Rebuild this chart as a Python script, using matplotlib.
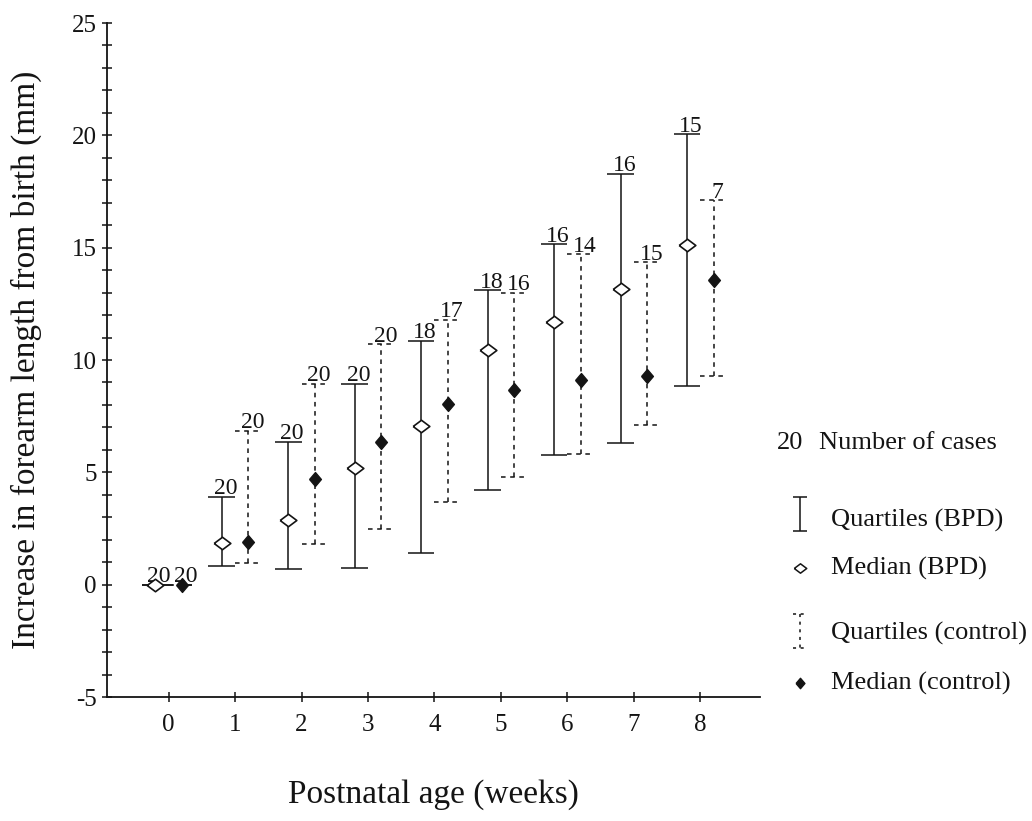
import matplotlib
matplotlib.use("Agg")
import matplotlib.pyplot as plt
from matplotlib.ticker import MultipleLocator
import numpy as np

# Postnatal age (weeks)
weeks = [0, 1, 2, 3, 4, 5, 6, 7, 8]

# BPD group: lower quartile, median, upper quartile (mm) and number of cases
bpd_q1 = [0.0, 0.85, 0.7, 0.75, 1.4, 4.2, 5.75, 6.3, 8.85]
bpd_med = [0.0, 1.85, 2.9, 5.2, 7.05, 10.45, 11.7, 13.15, 15.1]
bpd_q3 = [0.0, 3.9, 6.35, 8.95, 10.85, 13.1, 15.15, 18.3, 20.05]
bpd_n = [20, 20, 20, 20, 18, 18, 16, 16, 15]

# Control group
ctl_q1 = [0.0, 0.95, 1.8, 2.5, 3.7, 4.8, 5.8, 7.1, 9.3]
ctl_med = [0.0, 1.9, 4.7, 6.35, 8.05, 8.65, 9.1, 9.3, 13.55]
ctl_q3 = [0.0, 6.85, 8.95, 10.7, 11.8, 13.0, 14.7, 14.35, 17.1]
ctl_n = [20, 20, 20, 20, 17, 16, 14, 15, 7]

plt.rcParams["font.family"] = ["Liberation Serif", "DejaVu Serif"]
plt.rcParams["axes.unicode_minus"] = False
INK = "#141414"

fig = plt.figure(figsize=(10.32, 8.21), dpi=100)
ax = fig.add_axes([107 / 1032, 1 - 697 / 821, 653 / 1032, 674 / 821])

offset = 0.2      # half distance between the two groups at each week
cap = 0.2         # half width of quartile caps
lw = 1.1
dash = (0, (3, 3))

x = np.asarray(weeks, dtype=float)
xb = x - offset
xc = x + offset

bpd_diamond = [(-1, 0), (0, 0.75), (1, 0), (0, -0.75), (-1, 0)]
ctl_diamond = [(-0.85, 0), (0, 1), (0.85, 0), (0, -1), (-0.85, 0)]

# BPD quartile bars (solid)
ax.vlines(xb, bpd_q1, bpd_q3, color=INK, lw=lw)
ax.hlines(bpd_q1, xb - cap, xb + cap, color=INK, lw=lw)
ax.hlines(bpd_q3, xb - cap, xb + cap, color=INK, lw=lw)

# Control quartile bars (dashed)
ax.vlines(xc, ctl_q1, ctl_q3, color=INK, lw=lw, linestyles=[dash])
ax.hlines(ctl_q1, xc - cap, xc + cap, color=INK, lw=lw, linestyles=[dash])
ax.hlines(ctl_q3, xc - cap, xc + cap, color=INK, lw=lw, linestyles=[dash])

# Medians
ax.plot(xb, bpd_med, linestyle="none", marker=bpd_diamond, ms=12,
        mfc="white", mec=INK, mew=1.2, zorder=4)
ax.plot(xc, ctl_med, linestyle="none", marker=ctl_diamond, ms=10,
        mfc=INK, mec=INK, mew=1, zorder=4)

# Number of cases above each bar
for xi, top, n in zip(xb, bpd_q3, bpd_n):
    ax.text(xi + 0.06, top + 0.12, str(n), ha="center", va="baseline",
            fontsize=17, color=INK)
for xi, top, n in zip(xc, ctl_q3, ctl_n):
    ax.text(xi + 0.06, top + 0.12, str(n), ha="center", va="baseline",
            fontsize=17, color=INK)

# Axes
ax.set_xlim(-0.925, 8.895)
ax.set_ylim(-5, 25)
ax.set_xticks(weeks)
ax.set_xticklabels([str(w) for w in weeks])
ax.yaxis.set_major_locator(MultipleLocator(5))
ax.yaxis.set_minor_locator(MultipleLocator(1))
ax.tick_params(which="both", direction="inout", length=7, width=1.1,
               color=INK, labelcolor=INK, labelsize=18)
ax.tick_params(axis="x", pad=9)
ax.tick_params(axis="y", pad=4)
for side in ("top", "right"):
    ax.spines[side].set_visible(False)
for side in ("left", "bottom"):
    ax.spines[side].set_linewidth(1.3)
    ax.spines[side].set_color(INK)

ax.set_xlabel("Postnatal age (weeks)", fontsize=24, color=INK)
ax.set_ylabel("Increase in forearm length from birth (mm)", fontsize=24,
              color=INK)
ax.xaxis.set_label_coords(0.5, -0.122)
ax.yaxis.set_label_coords(-0.1, 0.5)

# Key, drawn on an overlay in pixel units
key = fig.add_axes([0, 0, 1, 1])
key.set_xlim(0, 1032)
key.set_ylim(821, 0)
key.axis("off")
key.patch.set_alpha(0)

kx = 800
key.text(777, 443, "20", ha="left", va="center", fontsize=19, color=INK)
key.text(819, 443, "Number of cases", ha="left", va="center", fontsize=19,
         color=INK)

key.vlines(kx, 497, 531, color=INK, lw=lw)
key.hlines([497, 531], kx - 7, kx + 7, color=INK, lw=lw)
key.text(831, 520, "Quartiles (BPD)", ha="left", va="center", fontsize=19,
         color=INK)

key.plot([kx], [568], linestyle="none", marker=bpd_diamond, ms=9,
         mfc="white", mec=INK, mew=1.1)
key.text(831, 568, "Median (BPD)", ha="left", va="center", fontsize=19,
         color=INK)

key.vlines(kx, 614, 648, color=INK, lw=lw, linestyles=[(0, (2, 3))])
key.hlines([614, 648], kx - 7, kx + 7, color=INK, lw=lw,
           linestyles=[(0, (2, 3))])
key.text(831, 633, "Quartiles (control)", ha="left", va="center",
         fontsize=19, color=INK)

key.plot([kx], [683], linestyle="none", marker=ctl_diamond, ms=7.5,
         mfc=INK, mec=INK, mew=1)
key.text(831, 683, "Median (control)", ha="left", va="center", fontsize=19,
         color=INK)

fig.savefig("out.png", dpi=100, facecolor="white")
